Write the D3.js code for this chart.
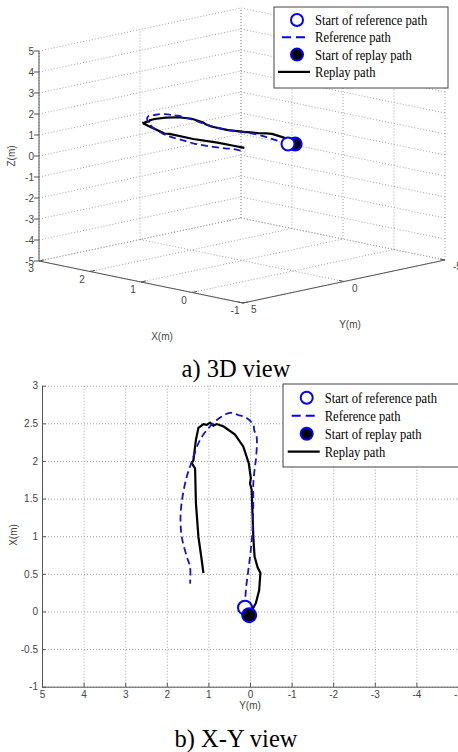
<!DOCTYPE html>
<html lang="en">
<head>
<meta charset="UTF-8">
<title>Reference path and replay path</title>
<script src="https://d3js.org/d3.v7.min.js"></script>
<style>
  body { margin: 0; background: #fff; }
  .lbl { font: 10px "Liberation Sans", Arial, sans-serif; fill: #444; }
  .grid { stroke: #a0a0a0; stroke-width: 1; stroke-dasharray: 1,2; fill: none; }
  .ax { stroke: #555; stroke-width: 1; fill: none; }
  .legend text { font: 12.6px "Liberation Serif", "Times New Roman", serif; fill: #000; }
  .caption { font: 24.5px "Liberation Serif", "Times New Roman", serif; fill: #000; }
</style>
</head>
<body>
<script>
// tick values
const xTicks3d = [3, 2, 1, 0, -1];
const yTicks3d = [5, 0, -5];
const zTicks3d = [5, 4, 3, 2, 1, 0, -1, -2, -3, -4, -5];
const xTicks2d = [3, 2.5, 2, 1.5, 1, 0.5, 0, -0.5, -1];
const yTicks2d = [5, 4, 3, 2, 1, 0, -1, -2, -3, -4, -5];

// reference path (blue dashed), X / Y / Z in metres
const refX = [0.05, 0.28, 0.55, 0.82, 1.08, 1.44, 1.70, 1.93, 2.01, 2.32, 2.41, 2.48, 2.57, 2.61, 2.64, 2.59, 2.46, 2.28, 1.99, 1.79, 1.53, 1.26, 0.99, 0.73, 0.59, 0.37];
const refY = [0.12, 0.10, 0.04, -0.02, -0.06, -0.08, -0.08, -0.12, -0.14, -0.16, -0.10, -0.08, 0.08, 0.28, 0.48, 0.68, 0.96, 1.20, 1.40, 1.52, 1.62, 1.67, 1.64, 1.52, 1.44, 1.44];
const refZ = [1.05, 1.10, 1.14, 1.14, 1.08, 1.04, 1.08, 1.14, 1.16, 1.20, 1.20, 1.20, 1.20, 1.18, 1.16, 1.12, 1.06, 0.95, 0.82, 0.80, 0.80, 0.77, 0.78, 0.79, 0.80, 0.79];

// replay path (black solid)
const repX = [-0.05, 0.11, 0.28, 0.51, 0.59, 0.73, 0.99, 1.30, 1.62, 1.70, 1.77, 1.97, 2.19, 2.35, 2.46, 2.49, 2.47, 2.51, 2.48, 2.49, 2.44, 2.28, 2.01, 1.97, 1.90, 1.44, 0.99, 0.68, 0.51];
const repY = [0.02, -0.14, -0.22, -0.25, -0.18, -0.11, -0.08, -0.06, -0.04, 0.00, -0.02, 0.03, 0.16, 0.36, 0.64, 0.80, 0.88, 0.96, 1.04, 1.12, 1.24, 1.30, 1.36, 1.40, 1.32, 1.30, 1.24, 1.16, 1.12];
const repZ = [1.08, 1.12, 1.18, 1.22, 1.22, 1.18, 1.11, 1.05, 1.06, 1.12, 1.18, 1.27, 1.26, 1.20, 1.14, 1.10, 1.07, 1.04, 1.03, 1.04, 1.06, 0.98, 0.86, 0.85, 0.85, 0.83, 0.87, 0.85, 0.84];

const legendLabels = ["Start of reference path", "Reference path", "Start of replay path", "Replay path"];

const BLUE = "#1414c8";
const MARK = "#0000ff";

const svg = d3.select("body").append("svg")
    .attr("width", 458)
    .attr("height", 752);

const line = d3.line().x(d => d[0]).y(d => d[1]);

// ---------------- a) 3D view ----------------
const ux = d3.scaleLinear().domain([3, -1]).range([0, 1]);
const uy = d3.scaleLinear().domain([5, -5]).range([0, 1]);
const uz = d3.scaleLinear().domain([-5, 5]).range([0, 1]);
const org = [39, 261], vx = [204, 42], vy = [202, -43], vz = [0, -210];
const proj = (x, y, z) => [
    org[0] + vx[0] * ux(x) + vy[0] * uy(y) + vz[0] * uz(z),
    org[1] + vx[1] * ux(x) + vy[1] * uy(y) + vz[1] * uz(z)
];

const g3 = svg.append("g");
const xb = 3, xf = -1, yf = 5, yb = -5, zlo = -5, zhi = 5;

const grid3 = [];
zTicks3d.forEach(z => {
    grid3.push([proj(xb, yf, z), proj(xb, yb, z)]);
    grid3.push([proj(xb, yb, z), proj(xf, yb, z)]);
});
yTicks3d.forEach(y => {
    grid3.push([proj(xb, y, zlo), proj(xb, y, zhi)]);
    grid3.push([proj(xb, y, zlo), proj(xf, y, zlo)]);
});
xTicks3d.forEach(x => {
    grid3.push([proj(x, yb, zlo), proj(x, yb, zhi)]);
    grid3.push([proj(x, yf, zlo), proj(x, yb, zlo)]);
});
g3.selectAll(".g3").data(grid3).enter().append("path")
    .attr("class", "grid").attr("d", line);

// axes
const axes3 = [
    [proj(xb, yf, zlo), proj(xb, yf, zhi)],
    [proj(xb, yf, zlo), proj(xf, yf, zlo)],
    [proj(xf, yf, zlo), proj(xf, yb, zlo)]
];
g3.selectAll(".a3").data(axes3).enter().append("path")
    .attr("class", "ax").attr("d", line);

// ticks
const ticks3 = [];
zTicks3d.forEach(z => { const p = proj(xb, yf, z); ticks3.push([[p[0] - 5, p[1]], p]); });
xTicks3d.forEach(x => ticks3.push([proj(x, yf, zlo), proj(x, yf - 0.25, zlo)]));
yTicks3d.forEach(y => ticks3.push([proj(xf, y, zlo), proj(xf + 0.1, y, zlo)]));
g3.selectAll(".t3").data(ticks3).enter().append("path")
    .attr("class", "ax").attr("d", line);

g3.selectAll(".zl").data(zTicks3d).enter().append("text")
    .attr("class", "lbl").attr("text-anchor", "end")
    .attr("x", d => proj(xb, yf, d)[0] - 5)
    .attr("y", d => proj(xb, yf, d)[1] + 3.5)
    .text(d => d);
g3.selectAll(".xl").data(xTicks3d).enter().append("text")
    .attr("class", "lbl").attr("text-anchor", "middle")
    .attr("x", d => proj(d, yf, zlo)[0] - 8)
    .attr("y", d => proj(d, yf, zlo)[1] + 11)
    .text(d => d);
g3.selectAll(".yl").data(yTicks3d).enter().append("text")
    .attr("class", "lbl").attr("text-anchor", "start")
    .attr("x", d => proj(xf, d, zlo)[0] + 8)
    .attr("y", d => proj(xf, d, zlo)[1] + 10)
    .text(d => d);

g3.append("text").attr("class", "lbl").attr("text-anchor", "middle")
    .attr("transform", "translate(15,156) rotate(-90)").text("Z(m)");
g3.append("text").attr("class", "lbl").attr("text-anchor", "middle")
    .attr("x", 162).attr("y", 340).text("X(m)");
g3.append("text").attr("class", "lbl").attr("text-anchor", "middle")
    .attr("x", 350).attr("y", 328).text("Y(m)");

const ref3 = refX.map((x, i) => proj(x, refY[i], refZ[i]));
const rep3 = repX.map((x, i) => proj(x, repY[i], repZ[i]));

g3.append("path").attr("d", line(rep3))
    .attr("fill", "none").attr("stroke", "#000").attr("stroke-width", 2.2);
g3.append("path").attr("d", d3.line().curve(d3.curveCatmullRom)(ref3))
    .attr("fill", "none").attr("stroke", BLUE).attr("stroke-width", 1.8)
    .attr("stroke-dasharray", "7,4");
g3.append("circle").attr("cx", rep3[0][0]).attr("cy", rep3[0][1]).attr("r", 6.5)
    .attr("fill", "#000").attr("stroke", MARK).attr("stroke-width", 2);
g3.append("circle").attr("cx", ref3[0][0]).attr("cy", ref3[0][1]).attr("r", 6.5)
    .attr("fill", "#fff").attr("stroke", MARK).attr("stroke-width", 2);

// ---------------- b) X-Y view ----------------
const sx = d3.scaleLinear().domain([5, -5]).range([42, 458]);
const sy = d3.scaleLinear().domain([-1, 3]).range([686.7, 385.7]);
const g2 = svg.append("g");

g2.append("g").attr("transform", "translate(0,686.7)")
    .call(d3.axisBottom(sx).tickValues(yTicks2d).tickSize(-301).tickFormat(""))
    .call(g => g.select(".domain").remove())
    .call(g => g.selectAll("line").attr("class", "grid"));
g2.append("g").attr("transform", "translate(42,0)")
    .call(d3.axisLeft(sy).tickValues(xTicks2d).tickSize(-416).tickFormat(""))
    .call(g => g.select(".domain").remove())
    .call(g => g.selectAll("line").attr("class", "grid"));

const bx = g2.append("g").attr("transform", "translate(0,686.7)")
    .call(d3.axisBottom(sx).tickValues(yTicks2d).tickSizeInner(-4).tickSizeOuter(0)
        .tickPadding(4).tickFormat(d => String(d)));
const by = g2.append("g").attr("transform", "translate(42,0)")
    .call(d3.axisLeft(sy).tickValues(xTicks2d).tickSizeInner(-4).tickSizeOuter(0)
        .tickPadding(4).tickFormat(d => String(d)));
[bx, by].forEach(a => {
    a.select(".domain").attr("stroke", "#555");
    a.selectAll(".tick line").attr("stroke", "#555");
    a.selectAll(".tick text").attr("class", "lbl").attr("fill", null)
        .style("font-family", null).style("font-size", null);
    a.attr("font-family", null).attr("font-size", null);
});

g2.append("text").attr("class", "lbl").attr("text-anchor", "middle")
    .attr("x", 250).attr("y", 709).text("Y(m)");
g2.append("text").attr("class", "lbl").attr("text-anchor", "middle")
    .attr("transform", "translate(17,535) rotate(-90)").text("X(m)");

const ref2 = refX.map((x, i) => [sx(refY[i]), sy(x)]);
const rep2 = repX.map((x, i) => [sx(repY[i]), sy(x)]);

g2.append("path").attr("d", line(rep2))
    .attr("fill", "none").attr("stroke", "#000").attr("stroke-width", 2.2);
g2.append("path").attr("d", d3.line().curve(d3.curveCatmullRom)(ref2))
    .attr("fill", "none").attr("stroke", BLUE).attr("stroke-width", 1.8)
    .attr("stroke-dasharray", "7,4");
g2.append("circle").attr("cx", ref2[0][0]).attr("cy", ref2[0][1]).attr("r", 7)
    .attr("fill", "#fff").attr("stroke", MARK).attr("stroke-width", 2);
g2.append("circle").attr("cx", rep2[0][0]).attr("cy", rep2[0][1]).attr("r", 7)
    .attr("fill", "#000").attr("stroke", MARK).attr("stroke-width", 2);

// ---------------- legends ----------------
function drawLegend(x, y, w, h, row0, step, left) {
    const g = svg.append("g").attr("class", "legend");
    g.append("rect").attr("x", x).attr("y", y).attr("width", w).attr("height", h)
        .attr("fill", "#fff").attr("stroke", "#444").attr("stroke-width", 1);
    const ry = i => row0 + i * step;
    g.append("circle").attr("cx", left + 15).attr("cy", ry(0)).attr("r", 6)
        .attr("fill", "#fff").attr("stroke", MARK).attr("stroke-width", 2);
    g.append("line").attr("x1", left).attr("x2", left + 28).attr("y1", ry(1)).attr("y2", ry(1))
        .attr("stroke", MARK).attr("stroke-width", 2).attr("stroke-dasharray", "9,5");
    g.append("circle").attr("cx", left + 15).attr("cy", ry(2)).attr("r", 6)
        .attr("fill", "#000").attr("stroke", MARK).attr("stroke-width", 2);
    g.append("line").attr("x1", left - 4).attr("x2", left + 28).attr("y1", ry(3)).attr("y2", ry(3))
        .attr("stroke", "#000").attr("stroke-width", 2.2);
    // text in the source is a little taller than it is wide
    g.selectAll("text").data(legendLabels).enter().append("text")
        .attr("transform", (d, i) => `translate(${left + 33},${ry(i) + 5}) scale(1,1.22)`)
        .text(d => d);
}
drawLegend(274, 7, 174, 81, 20, 17.3, 282);
drawLegend(283, 384, 180, 83, 397.7, 18, 291.7);

// ---------------- captions ----------------
svg.append("text").attr("class", "caption").attr("text-anchor", "middle")
    .attr("x", 236).attr("y", 377).text("a) 3D view");
svg.append("text").attr("class", "caption").attr("text-anchor", "middle")
    .attr("x", 236).attr("y", 747).text("b) X-Y view");
</script>
</body>
</html>
